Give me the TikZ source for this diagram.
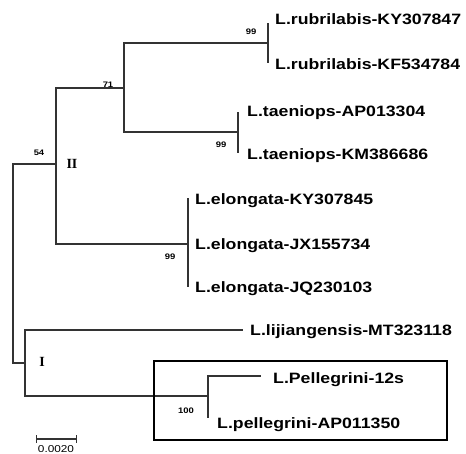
\documentclass[tikz,border=0pt]{standalone}
\usepackage{fontspec}
\usepackage{tikz}
\setmainfont{Liberation Sans}
\newfontfamily\taxonfont[FakeStretch=1.18]{Liberation Sans}
\newfontfamily\cladefont{Liberation Serif}

\begin{document}
\begin{tikzpicture}[x=1pt,y=-1pt,
    branch/.style={line width=1.2pt,draw=black!80},
    taxon/.style={anchor=base west,inner sep=0pt,
        font=\taxonfont\bfseries\fontsize{15}{15}\selectfont},
    boot/.style={inner sep=0pt,
        font=\taxonfont\bfseries\fontsize{8}{8}\selectfont},
    clade/.style={inner sep=0pt,
        font=\cladefont\bfseries\fontsize{14}{14}\selectfont}
]
\useasboundingbox (0,0) rectangle (466,454);

% tree nodes
\coordinate (root) at (13,263.5);
\coordinate (nII) at (56,164);
\coordinate (n71) at (124,88);
\coordinate (nRub) at (268,43);
\coordinate (rubA) at (268,23);
\coordinate (rubB) at (268,63);
\coordinate (nTae) at (238,132);
\coordinate (taeA) at (238,112);
\coordinate (taeB) at (238,153);
\coordinate (nElo) at (188,244);
\coordinate (eloA) at (188,198);
\coordinate (eloC) at (188,287);
\coordinate (nI) at (25,363);
\coordinate (lij) at (243,330);
\coordinate (nPel) at (208,396);
\coordinate (pelA) at (261,376);
\coordinate (pelB) at (208,418);

\draw[branch] (root) |- (nII);
\draw[branch] (root) |- (nI);
\draw[branch] (nII) |- (n71);
\draw[branch] (nII) |- (nElo);
\draw[branch] (n71) |- (nRub);
\draw[branch] (n71) |- (nTae);
\draw[branch] (nRub) -- (rubA);
\draw[branch] (nRub) -- (rubB);
\draw[branch] (nTae) -- (taeA);
\draw[branch] (nTae) -- (taeB);
\draw[branch] (nElo) -- (eloA);
\draw[branch] (nElo) -- (eloC);
\draw[branch] (nI) |- (lij);
\draw[branch] (nI) |- (nPel);
\draw[branch] (nPel) |- (pelA);
\draw[branch] (nPel) -- (pelB);

% taxa
\node[taxon] (rubAlab) at (275,25) {L.rubrilabis-KY307847};
\node[taxon] (rubBlab) at (275,70) {L.rubrilabis-KF534784};
\node[taxon] (taeAlab) at (247,117) {L.taeniops-AP013304};
\node[taxon] (taeBlab) at (247,160) {L.taeniops-KM386686};
\node[taxon] (eloAlab) at (195,205) {L.elongata-KY307845};
\node[taxon] (eloBlab) at (195,250) {L.elongata-JX155734};
\node[taxon] (eloClab) at (195,293) {L.elongata-JQ230103};
\node[taxon] (lijlab) at (250,336) {L.lijiangensis-MT323118};
\node[taxon] (pelAlab) at (273,383) {L.Pellegrini-12s};
\node[taxon] (pelBlab) at (217,428) {L.pellegrini-AP011350};

% bootstrap values and clades
\node[boot] (bRub) at (251,32) {99};
\node[boot] (b71) at (108,85) {71};
\node[boot] (bTae) at (221,145) {99};
\node[boot] (b54) at (39,153) {54};
\node[boot] (bElo) at (170,257) {99};
\node[boot] (bPel) at (186,411) {100};
\node[clade] (cII) at (72,164) {II};
\node[clade] (cI) at (42,362) {I};

\node[draw,line width=2.4pt,anchor=north west,inner sep=0pt,
    minimum width=293pt,minimum height=79pt] (pelbox) at (153,360) {};

% scale bar
\coordinate (sbL) at (36,439);
\coordinate (sbR) at (77,439);
\draw[branch,|-|] (sbL) -- (sbR);
\node[anchor=base,inner sep=0pt,
    font=\taxonfont\fontsize{10}{10}\selectfont] (sblab) at (56,452) {0.0020};
\end{tikzpicture}
\end{document}
